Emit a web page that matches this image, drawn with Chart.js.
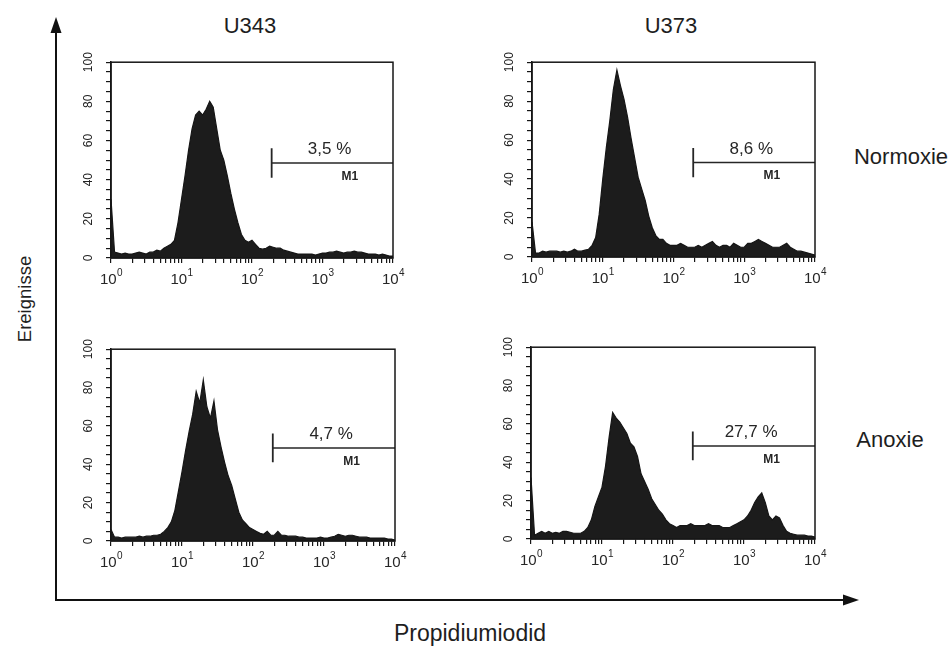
<!DOCTYPE html>
<html>
<head>
<meta charset="utf-8">
<title>Propidiumiodid - U343 / U373</title>
<script src="https://cdn.jsdelivr.net/npm/chart.js@4.4.1/dist/chart.umd.min.js"></script>
<style>
  body { margin: 0; background: #fff; }
  #page {
    position: relative;
    width: 952px;
    height: 646px;
    overflow: hidden;
    font-family: "Liberation Sans", Arial, sans-serif;
    color: #1e1e1e;
  }
  .lbl {
    position: absolute;
    font-size: 22px;
    white-space: nowrap;
    transform: translate(-50%, -50%);
  }
</style>
</head>
<body>
<div id="page">
  <svg width="952" height="646" style="position:absolute;left:0;top:0">
    <line x1="56" y1="601" x2="56" y2="30" stroke="#111" stroke-width="2" />
    <polygon points="56,17 50.5,33 61.5,33" fill="#111" />
    <line x1="55" y1="600" x2="845" y2="600" stroke="#111" stroke-width="2" />
    <polygon points="859,600 843,594.5 843,605.5" fill="#111" />
  </svg>
  <div class="lbl" style="left:250px;top:26px">U343</div>
  <div class="lbl" style="left:671px;top:26px">U373</div>
  <div class="lbl" style="left:901px;top:157px">Normoxie</div>
  <div class="lbl" style="left:890px;top:440px">Anoxie</div>
  <div class="lbl" style="left:25px;top:299px;font-size:18.5px;transform:translate(-50%,-50%) rotate(-90deg)">Ereignisse</div>
  <div class="lbl" style="left:470px;top:633px;font-size:23px">Propidiumiodid</div>
</div>

<script>
"use strict";

// row / column headers
const cellLines = ["U343", "U373"];
const conditions = ["Normoxie", "Anoxie"];

// histogram counts, one bin every 1/20 decade, from 10^0 to 10^4 (81 bins)
const BINS_PER_DECADE = 20;

const u343Normoxie = [
  30, 3, 2.5, 2, 2.5, 2, 2, 2.5, 3, 2.5,
  2, 3, 3, 4, 3.5, 5, 6, 7, 9, 18,
  30, 42, 55, 66, 73, 75, 73, 76, 80, 77,
  66, 55, 50, 42, 33, 25, 18, 12, 9, 8,
  9, 7, 5, 4.5, 5, 6, 5.5, 5, 5, 4,
  3.5, 3, 2.5, 2, 2, 2, 2, 2, 1.5, 2,
  2.5, 2.5, 3, 3, 3.5, 3, 2.5, 3, 3, 3.5,
  3, 3, 2.5, 2, 2, 2, 1.5, 2, 1.5, 1,
  1,
];

const u373Normoxie = [
  18, 2, 2, 3, 2.5, 3, 3, 3, 2.5, 3,
  2.5, 3, 4, 3, 3, 3.5, 4, 6, 10, 22,
  40, 56, 70, 86, 96, 88, 81, 72, 61, 51,
  41, 35, 29, 21, 15, 11, 9, 9, 7, 6,
  6, 6, 7, 6, 5, 5, 5, 6, 5, 6,
  7, 8, 6, 5, 6, 6, 5, 7, 6, 5,
  5, 7, 7, 8, 9, 8, 7, 6, 5, 5,
  5, 6, 7, 5, 4, 3, 3, 2.5, 2, 1.5,
  1,
];

const u343Anoxie = [
  6, 2, 2, 1.5, 2, 2, 2, 2, 2.5, 2,
  2.5, 2.5, 3, 3, 3.5, 5, 7, 10, 16, 26,
  36, 47, 57, 66, 78, 72, 84, 70, 64, 73,
  58, 49, 41, 34, 29, 22, 15, 11, 9, 7,
  6, 5, 4, 3.5, 5, 3, 3, 5, 3, 3,
  2.5, 2.5, 2.5, 2, 2, 1.5, 1.5, 1.5, 1.5, 2,
  1.5, 1.5, 2, 2.5, 3.5, 3, 2.5, 3, 3, 2.5,
  2, 2, 2, 1.5, 1.5, 1.5, 1.5, 1.5, 1, 1,
  0.5,
];

const u373Anoxie = [
  32, 2, 3, 4, 3, 4, 3, 3.5, 3, 4,
  4, 3.5, 3, 3, 3, 4, 6, 10, 17, 22,
  27, 38, 53, 66, 63, 61, 58, 55, 50, 48,
  43, 34, 30, 26, 21, 18, 15, 13, 10, 8,
  7, 6, 7, 7, 7, 8, 7, 7, 7, 7,
  8, 7, 7, 7, 6, 6, 6, 7, 8, 9,
  10, 12, 15, 19, 22, 24, 19, 12, 10, 12,
  11, 7, 4, 3, 2.5, 2, 2, 2, 1.5, 1.5,
  1,
];

// panels in reading order: U343 Normoxie, U373 Normoxie, U343 Anoxie, U373 Anoxie
const panelCounts = [u343Normoxie, u373Normoxie, u343Anoxie, u373Anoxie];
const gatePercents = ["3,5 %", "8,6 %", "4,7 %", "27,7 %"];
const gateName = "M1";

// M1 gate: from channel 190 to the end of the scale
const gateStart = 190;
const gateEnd = 10000;
const gateLevel = 48.5;
const gateTick = [41, 56];
const gateTextAt = [1260, 55.5];
const gateNameAt = [2450, 41.5];

// axes
const xExponents = ["0", "1", "2", "3", "4"];
const yMajorTicks = [0, 20, 40, 60, 80, 100];

// layout of the plot boxes on the page: left, top, right, bottom
const panelBoxes = [
  [111, 62, 393, 258],
  [532, 62, 815, 257],
  [111, 349, 395, 541],
  [531, 347, 815, 539],
];
const PAD_TOP = 14;
const PAD_RIGHT = 14;
const Y_AXIS_W = 36;
const X_AXIS_H = 34;
const INK = "#161616";
const FONT = '"Liberation Sans", Arial, sans-serif';

// box round the plot + gate texts + 10^n tick labels
const panelDecor = {
  id: "panelDecor",
  afterDatasetsDraw(chart, args, opts) {
    const { ctx, chartArea: a } = chart;
    const x = chart.scales.x;
    const y = chart.scales.y;
    ctx.save();
    ctx.strokeStyle = INK;
    ctx.lineWidth = 1.5;
    ctx.strokeRect(a.left, a.top, a.right - a.left, a.bottom - a.top);

    ctx.fillStyle = "#262626";
    ctx.textAlign = "center";
    ctx.textBaseline = "middle";
    ctx.font = "17px " + FONT;
    ctx.fillText(opts.pct, x.getPixelForValue(gateTextAt[0]), y.getPixelForValue(gateTextAt[1]));
    ctx.font = "bold 12px " + FONT;
    ctx.fillText(gateName, x.getPixelForValue(gateNameAt[0]), y.getPixelForValue(gateNameAt[1]));

    // tick labels 10^0 .. 10^4
    ctx.textAlign = "left";
    ctx.textBaseline = "alphabetic";
    xExponents.forEach((e) => {
      const px = x.getPixelForValue(Math.pow(10, Number(e)));
      ctx.font = "15px " + FONT;
      const wb = ctx.measureText("10").width;
      ctx.font = "10px " + FONT;
      const we = ctx.measureText(e).width;
      const left = px - (wb + we) / 2;
      ctx.font = "15px " + FONT;
      ctx.fillText("10", left, a.bottom + 26);
      ctx.font = "10px " + FONT;
      ctx.fillText(e, left + wb + 0.5, a.bottom + 18);
    });
    ctx.restore();
  },
};

function logTicks() {
  const out = [];
  for (let d = 0; d < 4; d++) {
    for (let m = 1; m <= 9; m++) out.push({ value: m * Math.pow(10, d), major: m === 1 });
  }
  out.push({ value: 10000, major: true });
  return out;
}

function makePanel(i) {
  const [l, t, r, b] = panelBoxes[i];
  const canvas = document.createElement("canvas");
  canvas.width = r - l + Y_AXIS_W + PAD_RIGHT;
  canvas.height = b - t + PAD_TOP + X_AXIS_H;
  canvas.style.position = "absolute";
  canvas.style.left = l - Y_AXIS_W + "px";
  canvas.style.top = t - PAD_TOP + "px";
  document.getElementById("page").appendChild(canvas);

  const hist = panelCounts[i].map((v, k) => ({ x: Math.pow(10, k / BINS_PER_DECADE), y: v }));

  return new Chart(canvas, {
    type: "line",
    data: {
      datasets: [
        {
          data: hist,
          fill: "origin",
          tension: 0,
          borderColor: INK,
          backgroundColor: "#1c1c1c",
          borderWidth: 1.2,
          pointRadius: 0,
        },
        {
          data: [{ x: gateStart, y: gateLevel }, { x: gateEnd, y: gateLevel }],
          borderColor: "#262626",
          borderWidth: 1.6,
          pointRadius: 0,
          fill: false,
        },
        {
          data: [{ x: gateStart, y: gateTick[0] }, { x: gateStart, y: gateTick[1] }],
          borderColor: "#262626",
          borderWidth: 1.8,
          pointRadius: 0,
          fill: false,
        },
      ],
    },
    options: {
      responsive: false,
      animation: false,
      layout: { padding: { top: PAD_TOP, right: PAD_RIGHT, left: 0, bottom: 0 } },
      plugins: {
        legend: { display: false },
        tooltip: { enabled: false },
        panelDecor: { pct: gatePercents[i] },
      },
      scales: {
        x: {
          type: "logarithmic",
          min: 1,
          max: 10000,
          afterBuildTicks: (s) => { s.ticks = logTicks(); },
          afterFit: (s) => { s.height = X_AXIS_H; },
          ticks: { display: false, autoSkip: false },
          grid: { drawOnChartArea: false, drawTicks: true, tickLength: 5, color: INK, lineWidth: 1.2 },
          border: { color: INK, width: 1.5 },
        },
        y: {
          type: "linear",
          min: 0,
          max: 100,
          afterFit: (s) => { s.width = Y_AXIS_W; },
          ticks: {
            stepSize: 5,
            autoSkip: false,
            minRotation: 90,
            maxRotation: 90,
            crossAlign: "center",
            padding: 7,
            color: "#222",
            font: { size: 12, family: FONT },
            callback: (v) => (yMajorTicks.includes(v) ? String(v) : ""),
          },
          grid: { drawOnChartArea: false, drawTicks: true, tickLength: 5, color: INK, lineWidth: 1.2 },
          border: { color: INK, width: 1.5 },
        },
      },
    },
    plugins: [panelDecor],
  });
}

panelBoxes.forEach((_, i) => makePanel(i));
</script>
</body>
</html>
